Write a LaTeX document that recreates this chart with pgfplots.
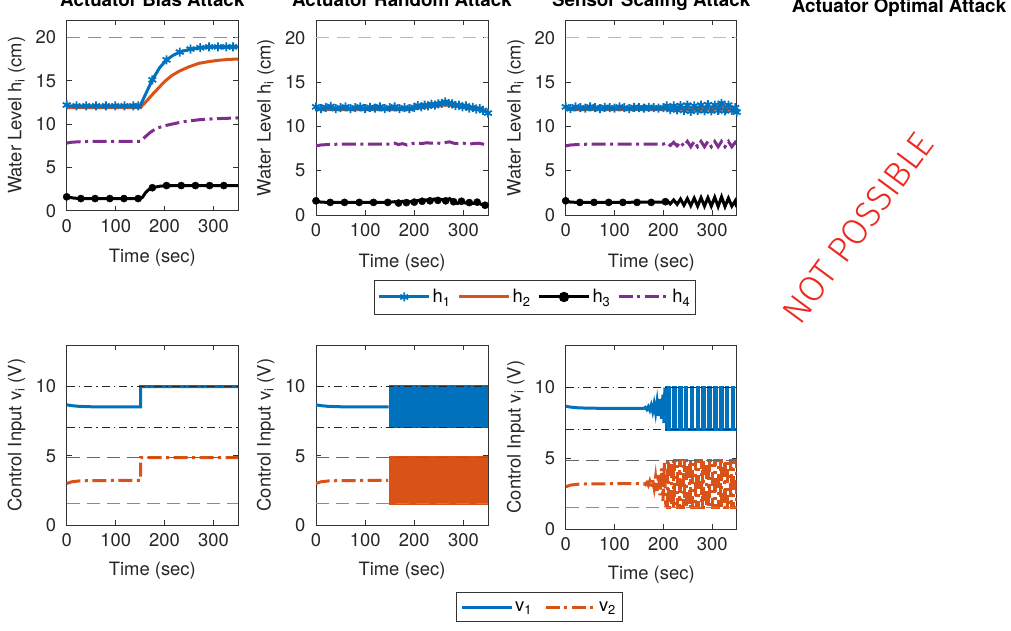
\documentclass[border=0pt]{standalone}
\usepackage{fontspec}
\setmainfont{TeX Gyre Heros}
\IfFontExistsTF{Fira Sans Light}{\newfontfamily\thinfont{Fira Sans Light}}{\newfontfamily\thinfont{Latin Modern Sans}}
\usepackage{pgfplots}
\pgfplotsset{compat=1.18}
\definecolor{mblue}{rgb}{0,0.447,0.741}
\definecolor{morange}{rgb}{0.85,0.325,0.098}
\definecolor{mpurple}{rgb}{0.494,0.184,0.556}
\definecolor{mgreen}{rgb}{0.466,0.674,0.188}
\definecolor{lgreen}{rgb}{0.66,0.81,0.54}
\definecolor{mred}{rgb}{0.93,0.16,0.12}
\newcommand\fs{\fontsize{18.4}{22}\selectfont}
\pgfplotsset{
  base/.style={scale only axis, xmin=0, xmax=350, xtick={0,100,200,300},
    tick align=inside, tick pos=both, major tick length=5pt,
    axis line style={black!80, line width=0.6pt},
    tick style={black!80, line width=0.6pt},
    tick label style={font=\fs, text=black!85},
    label style={font=\fs, text=black!85},
    /pgf/number format/assume math mode=true,
    x tick label style={yshift=-5pt}, y tick label style={xshift=-7pt},
    title style={font=\fontsize{18.8}{22}\selectfont\bfseries, at={(axis description cs:0.5,1)}, anchor=base, yshift=7.3pt},
    ylabel style={at={(axis description cs:-0.264,0.5)}, anchor=base},
    xlabel={Time (sec)},
    legend image code/.code={\draw[mark repeat=2,mark phase=2,##1] plot coordinates {(0pt,0pt) (25pt,0pt) (50pt,0pt)};},
  },
  toprow/.style={base, ymin=0, ymax=22, ytick={0,5,10,15,20},
    ylabel={Water Level h\textsubscript{i} (cm)},
    xlabel style={at={(axis description cs:0.5,0)}, anchor=base, yshift=-52pt}},
  botrow/.style={base, ymin=0, ymax=13, ytick={0,5,10},
    ylabel={Control Input v\textsubscript{i} (V)},
    xlabel style={at={(axis description cs:0.5,0)}, anchor=base, yshift=-50pt}},
  hone/.style={mblue, line width=3pt, mark=asterisk, mark size=4.5pt, mark options={line width=1.8pt, solid}},
  honeline/.style={mblue, line width=3pt, no marks},
  honemarks/.style={mblue, only marks, mark=asterisk, mark size=4.5pt, mark options={line width=1.8pt, solid}},
  htwo/.style={morange, line width=3pt, no marks},
  hthree/.style={black, line width=3pt, mark=*, mark size=3.6pt, mark options={solid}},
  hthreeline/.style={black, line width=3pt, no marks},
  hthreemarks/.style={black, only marks, mark=*, mark size=3.6pt},
  hfour/.style={mpurple, line width=3pt, no marks, dash pattern=on 14pt off 4.5pt on 3pt off 4.5pt},
  vone/.style={mblue, line width=3pt, no marks},
  vtwo/.style={morange, line width=3pt, no marks, dash pattern=on 14pt off 4.5pt on 3pt off 4.5pt},
  refdd/.style={black!85, line width=0.9pt, no marks, dash pattern=on 8pt off 4pt on 1.5pt off 4pt},
  refda/.style={black!60, line width=0.9pt, no marks, dash pattern=on 13pt off 7pt},
  refdb/.style={black!45, line width=0.9pt, no marks, dash pattern=on 13pt off 7pt},
}
\begin{document}
\begin{tikzpicture}
% ---------------- Top row, panel 1
\begin{axis}[toprow, at={(66.7pt,419.3pt)}, anchor=south west, width=171.3pt, height=190.7pt,
  title={Actuator Bias Attack}]
\addplot[mgreen, line width=1.2pt, dash pattern=on 13pt off 8pt] coordinates {(0,20) (350,20)};
\addplot[htwo] coordinates {(0,11.9)(150,11.9)(160,12.45)(175,13.4)(190,14.3)(200,14.9)(215,15.6)(230,16.1)(250,16.6)(270,17.0)(290,17.2)(310,17.35)(330,17.45)(350,17.5)};
\addplot[honeline] coordinates {(0,12.2)(3,12.1)(150,12.1)(160,13.3)(175,15.1)(190,16.5)(204,17.4)(218,17.95)(231,18.3)(250,18.6)(270,18.8)(291,18.9)(320,18.9)(350,18.9)};
\addplot[honemarks] coordinates {(0,12.2)(20,12.1)(40,12.1)(60,12.1)(80,12.1)(99,12.1)(118,12.1)(136,12.1)(146,12.1)(175,15.1)(204,17.4)(231,18.3)(253,18.65)(273,18.8)(291,18.9)(309,18.9)(326,18.9)(340,18.9)};
\addplot[hfour] coordinates {(0,7.8)(10,7.9)(25,7.95)(50,8.0)(150,8.0)(160,8.5)(170,9.0)(183,9.5)(204,9.85)(238,10.27)(272,10.5)(306,10.62)(350,10.7)};
\addplot[hthreeline] coordinates {(0,1.6)(15,1.45)(30,1.4)(150,1.4)(155,1.55)(160,2.0)(167,2.4)(175,2.65)(190,2.82)(205,2.9)(350,2.9)};
\addplot[hthreemarks] coordinates {(0,1.6)(29,1.4)(58,1.4)(88,1.4)(117,1.4)(146,1.4)(175,2.65)(204,2.9)(234,2.9)(263,2.9)(292,2.9)(321,2.9)};
\end{axis}
% ---------------- Top row, panel 2
\begin{axis}[toprow, at={(316pt,415pt)}, anchor=south west, width=172pt, height=195pt,
  title={Actuator Random Attack},
  legend columns=4,
  legend style={at={(1.2733,-0.4205)}, anchor=center, draw=black!80, line width=0.5pt, font=\fs,
    inner xsep=3pt, inner ysep=7.5pt, /tikz/every even column/.append style={column sep=5pt}}]
\addlegendimage{hone}\addlegendentry{h\textsubscript{1}}
\addlegendimage{htwo}\addlegendentry{h\textsubscript{2}}
\addlegendimage{hthree}\addlegendentry{h\textsubscript{3}}
\addlegendimage{hfour}\addlegendentry{h\textsubscript{4}}
\addplot[lgreen, line width=1.2pt, dash pattern=on 13pt off 8pt, forget plot] coordinates {(0,20) (350,20)};
\addplot[htwo, forget plot] coordinates {(0,11.9)(150,11.9)(175,11.88)(190,11.9)(200,12.0)(215,12.1)(230,12.2)(245,12.3)(262,12.4)(275,12.35)(290,12.25)(305,12.1)(320,11.95)(335,11.85)(350,11.65)};
\addplot[hone, forget plot] coordinates {(0,12.2)(10,12.0)(20,12.15)(30,12.25)(40,12.0)(50,12.1)(60,12.2)(70,12.0)(80,12.1)(90,12.2)(100,12.0)(110,12.15)(120,12.05)(130,12.2)(140,12.0)(150,12.1)(160,12.2)(170,12.0)(180,12.1)(190,12.0)(200,12.15)(207,12.35)(214,12.2)(221,12.4)(228,12.3)(235,12.5)(242,12.4)(249,12.55)(256,12.6)(263,12.75)(270,12.6)(277,12.55)(284,12.35)(291,12.4)(298,12.2)(305,12.3)(312,12.05)(319,12.15)(326,11.95)(333,12.0)(340,11.8)(350,11.5)};
\addplot[hfour, forget plot] coordinates {(0,7.8)(10,7.9)(25,7.95)(50,8.0)(150,8.0)(160,8.1)(168,7.95)(176,8.05)(185,7.9)(195,8.05)(205,8.15)(215,8.05)(225,8.15)(235,8.1)(245,8.15)(255,8.05)(265,8.2)(272,8.25)(280,8.1)(290,8.05)(300,8.1)(310,8.0)(320,8.05)(330,8.1)(340,8.0)(350,7.9)};
\addplot[hthreeline, forget plot] coordinates {(0,1.6)(10,1.45)(29,1.42)(146,1.42)(160,1.5)(168,1.35)(176,1.55)(184,1.4)(192,1.5)(200,1.45)(208,1.65)(216,1.55)(224,1.7)(232,1.6)(240,1.8)(248,1.65)(256,1.75)(264,1.6)(272,1.85)(280,1.5)(288,1.3)(296,1.55)(304,1.35)(312,1.4)(320,1.3)(328,1.45)(336,1.2)(344,1.1)(350,1.05)};
\addplot[hthreemarks, forget plot] coordinates {(0,1.6)(29,1.42)(58,1.42)(88,1.42)(117,1.42)(146,1.42)(168,1.35)(184,1.4)(200,1.45)(216,1.55)(232,1.6)(248,1.65)(264,1.6)(280,1.5)(296,1.55)(312,1.4)(328,1.45)(344,1.1)};
\end{axis}
% ---------------- Top row, panel 3
\begin{axis}[toprow, at={(565.7pt,415pt)}, anchor=south west, width=171pt, height=195pt,
  title={Sensor Scaling Attack}]
\addplot[lgreen, line width=1.2pt, dash pattern=on 13pt off 8pt] coordinates {(0,20) (350,20)};
\addplot[hone] coordinates {(0,12.2)(10,12.0)(20,12.2)(30,12.1)(40,12.05)(50,12.2)(60,12.1)(70,12.0)(80,12.15)(90,12.1)(100,12.05)(110,12.2)(120,12.1)(130,12.0)(140,12.15)(150,12.1)(160,12.05)(170,12.15)(180,12.1)(190,12.05)(200,12.1)(207,12.3)(214,11.9)(221,12.3)(228,11.85)(235,12.35)(242,11.8)(249,12.4)(256,11.7)(263,12.3)(270,11.8)(277,12.4)(284,11.75)(291,12.45)(298,11.75)(305,12.4)(312,11.8)(319,12.6)(326,11.75)(333,12.4)(340,11.8)(347,12.1)(350,11.6)};
\addplot[htwo] coordinates {(0,11.9)(200,11.9)(210,12.0)(217,11.8)(224,12.05)(231,11.8)(238,12.1)(245,11.75)(252,12.15)(259,11.75)(266,12.2)(273,11.7)(280,12.2)(287,11.7)(294,12.2)(301,11.7)(308,12.25)(315,11.7)(322,12.25)(329,11.7)(336,12.2)(343,11.7)(350,11.9)};
\addplot[hfour] coordinates {(0,7.8)(10,7.9)(25,7.95)(50,8.0)(200,8.0)(207,8.15)(214,7.85)(221,8.2)(228,7.8)(235,8.25)(242,7.75)(249,8.3)(256,7.7)(263,8.3)(270,7.7)(277,8.3)(284,7.7)(291,8.3)(298,7.7)(305,8.3)(312,7.7)(319,8.3)(326,7.7)(333,8.3)(340,7.7)(347,8.2)(350,8.0)};
\addplot[hthreeline] coordinates {(0,1.6)(10,1.45)(29,1.42)(200,1.45)(207,1.65)(214,1.25)(221,1.7)(228,1.2)(235,1.8)(242,1.1)(249,1.85)(256,1.05)(263,1.9)(270,1.0)(277,1.95)(284,1.0)(291,1.95)(298,1.0)(305,2.0)(312,0.95)(319,2.05)(326,0.95)(333,1.9)(340,1.0)(347,1.6)(350,0.9)};
\addplot[hthreemarks] coordinates {(0,1.6)(29,1.42)(58,1.42)(88,1.42)(117,1.42)(146,1.42)(175,1.42)(204,1.5)};
\end{axis}
% ---------------- Bottom row, panel 1
\begin{axis}[botrow, at={(66.7pt,105pt)}, anchor=south west, width=171.3pt, height=180pt]
\addplot[vone] coordinates {(0,8.68)(10,8.62)(25,8.57)(50,8.54)(151,8.53)(151,10.0)(350,10.0)};
\addplot[vtwo] coordinates {(0,3.0)(10,3.12)(25,3.18)(50,3.21)(151,3.22)(151,4.87)(350,4.87)};
\addplot[refdd] coordinates {(0,10)(350,10)};
\addplot[refdd] coordinates {(0,7.06)(350,7.06)};
\addplot[refda] coordinates {(0,4.87)(350,4.87)};
\addplot[refdb] coordinates {(0,1.54)(350,1.54)};
\end{axis}
% ---------------- Bottom row, panel 2
\begin{axis}[botrow, at={(316pt,105pt)}, anchor=south west, width=172pt, height=180pt,
  legend columns=2,
  legend style={at={(1.2965,-0.4556)}, anchor=center, draw=black!80, line width=0.5pt, font=\fs,
    inner xsep=4pt, inner ysep=7pt, /tikz/every even column/.append style={column sep=10pt}}]
\addlegendimage{vone}\addlegendentry{v\textsubscript{1}}
\addlegendimage{vtwo}\addlegendentry{v\textsubscript{2}}
\addplot[vone, forget plot] coordinates {(0,8.68)(10,8.62)(25,8.57)(50,8.54)(148,8.53)};
\addplot[fill=mblue, draw=none, forget plot] coordinates {(148,6.98)(148,10.1)(350,10.1)(350,6.98)};
\addplot[vtwo, forget plot] coordinates {(0,3.0)(10,3.12)(25,3.18)(50,3.21)(147,3.22)};
\addplot[fill=morange, draw=none, forget plot] coordinates {(148,1.45)(148,4.95)(350,4.95)(350,1.45)};
\addplot[refdd, forget plot] coordinates {(0,10)(350,10)};
\addplot[refdd, forget plot] coordinates {(0,7.06)(350,7.06)};
\addplot[refda, forget plot] coordinates {(0,4.87)(350,4.87)};
\addplot[refdb, forget plot] coordinates {(0,1.54)(350,1.54)};
\end{axis}
% ---------------- Bottom row, panel 3
\begin{axis}[botrow, at={(565.7pt,100.7pt)}, anchor=south west, width=171pt, height=184.3pt]
\addplot[vone] coordinates {(0,8.68)(10,8.62)(25,8.57)(50,8.54)(160,8.53)(163,8.6)(166,8.45)(169,8.65)(172,8.4)(175,8.75)(178,8.3)(181,8.85)(184,8.2)(187,9.0)(190,8.0)(193,9.2)(196,7.8)(199,9.5)(201,7.5)(203,10)};
\addplot[vone, const plot] coordinates {(203,10)(206,7.06)(209,10)(212,7.06)(221,10)(224,7.06)(233,10)(236,7.06)(245,10)(248,7.06)(257,10)(260,7.06)(269,10)(272,7.06)(281,10)(284,7.06)(293,10)(296,7.06)(305,10)(308,7.06)(317,10)(320,7.06)(329,10)(332,7.06)(341,10)(344,7.06)(350,7.06)};
\addplot[vtwo] coordinates {(0,3.0)(10,3.12)(25,3.18)(50,3.21)(160,3.22)(163,3.15)(166,3.3)(169,3.1)(172,3.4)(175,3.0)(178,3.5)(181,2.9)(184,3.7)(187,2.7)(190,3.9)(193,2.4)(196,4.3)(199,2.0)(202,4.7)(205,1.54)};
\addplot[vtwo, const plot] coordinates {(205,1.54)(208,4.87)(211,1.54)(217,4.87)(220,1.54)(223,4.87)(229,1.54)(232,4.87)(235,1.54)(241,4.87)(244,1.54)(247,4.87)(253,1.54)(256,4.87)(259,1.54)(265,4.87)(268,1.54)(271,4.87)(277,1.54)(280,4.87)(283,1.54)(289,4.87)(292,1.54)(295,4.87)(301,1.54)(304,4.87)(307,1.54)(313,4.87)(316,1.54)(319,4.87)(325,1.54)(328,4.87)(331,1.54)(337,4.87)(340,1.54)(343,4.87)(349,1.54)(350,1.54)};
\addplot[refdd] coordinates {(0,10)(350,10)};
\addplot[refdd] coordinates {(0,7.06)(350,7.06)};
\addplot[refda] coordinates {(0,4.87)(350,4.87)};
\addplot[refdb] coordinates {(0,1.54)(350,1.54)};
\end{axis}
% ---------------- Fourth column
\node[font=\fontsize{18.8}{22}\selectfont\bfseries, anchor=base] at (899pt,617.3pt) {Actuator Optimal Attack};
\node[font=\fontsize{36}{38}\selectfont\thinfont, text=mred, rotate=53.5] at (858pt,402pt) {NOT POSSIBLE};
\pgfresetboundingbox
\useasboundingbox (0,0) rectangle (1011pt,630pt);
\end{tikzpicture}
\end{document}
